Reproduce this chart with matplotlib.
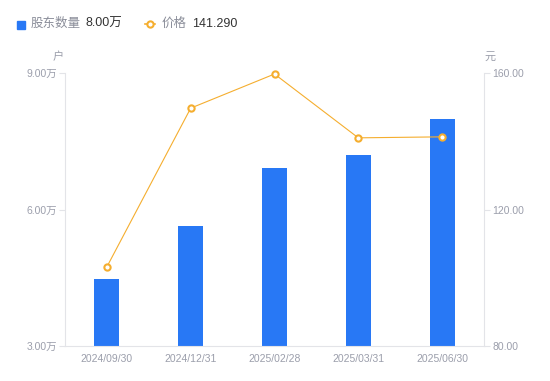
import matplotlib.pyplot as plt
from matplotlib.lines import Line2D
from matplotlib.patches import Rectangle
import numpy as np

plt.rcParams['font.family'] = ['Liberation Sans', 'Noto Sans CJK SC']

dates = ['2024/09/30', '2024/12/31', '2025/02/28', '2025/03/31', '2025/06/30']
holders = [4.47, 5.64, 6.91, 7.20, 8.00]  # 万户
price = [103.2, 149.7, 159.7, 141.0, 141.29]

left_ticks = [3, 6, 9]
right_ticks = [80, 120, 160]

bar_color = '#2878f5'
line_color = '#f5ae2f'
tick_color = '#9b9eab'
axis_color = '#e3e4e8'

W, H = 550, 381
fig = plt.figure(figsize=(W / 100, H / 100), dpi=100)
ax = fig.add_axes([65 / W, 1 - 346 / H, (484 - 65) / W, (346 - 73) / H])
ax2 = ax.twinx()

x = np.arange(len(dates))
ax.bar(x, holders, width=0.3, color=bar_color, zorder=2)
ax.set_xlim(-0.5, len(dates) - 0.5)
ax.set_ylim(3, 9)
ax.set_yticks(left_ticks)
ax.set_yticklabels(['%.2f万' % v for v in left_ticks])
ax.set_xticks(x)
ax.set_xticklabels(dates)

ax2.plot(x, price, color=line_color, lw=0.8, marker='o', ms=4.5,
         mfc='white', mec=line_color, mew=1.5, zorder=3, clip_on=False)
ax2.set_ylim(80, 160)
ax2.set_yticks(right_ticks)
ax2.set_yticklabels(['%.2f' % v for v in right_ticks])

for a in (ax, ax2):
    for s in a.spines.values():
        s.set_visible(False)
    a.tick_params(colors=tick_color, labelsize=7.5, length=4, width=0.8,
                  color=axis_color, pad=2)
ax.tick_params(axis='x', length=0, pad=6)
ax.spines['left'].set_visible(True)
ax.spines['left'].set_color(axis_color)
ax.spines['bottom'].set_visible(True)
ax.spines['bottom'].set_color(axis_color)
ax2.spines['right'].set_visible(True)
ax2.spines['right'].set_color(axis_color)
ax.set_zorder(ax2.get_zorder() - 1)
ax2.patch.set_visible(False)

# unit labels
fig.text(58 / W, 1 - 57 / H, '户', color=tick_color, fontsize=8, ha='center', va='center')
fig.text(490 / W, 1 - 57 / H, '元', color=tick_color, fontsize=8, ha='center', va='center')

# legend
ly = 1 - 24 / H
fig.patches.append(Rectangle((17 / W, 1 - 28.5 / H), 8 / W, 8 / H, color=bar_color,
                             transform=fig.transFigure, figure=fig))
fig.text(31 / W, ly, '股东数量', color='#8a8d99', fontsize=9, va='center')
fig.text(85 / W, ly, '%.2f万' % holders[-1], color='#333333', fontsize=9, va='center')
fig.lines.append(Line2D([145 / W, 155 / W], [ly, ly], color=line_color, lw=1.2,
                        transform=fig.transFigure, figure=fig))
fig.lines.append(Line2D([150 / W], [ly], color=line_color, marker='o', ms=4.5,
                        mfc='white', mec=line_color, mew=1.5,
                        transform=fig.transFigure, figure=fig))
fig.text(162 / W, ly, '价格', color='#8a8d99', fontsize=9, va='center')
fig.text(192 / W, ly, '%.3f' % price[-1], color='#333333', fontsize=9, va='center')

fig.savefig('out.png', dpi=100)
